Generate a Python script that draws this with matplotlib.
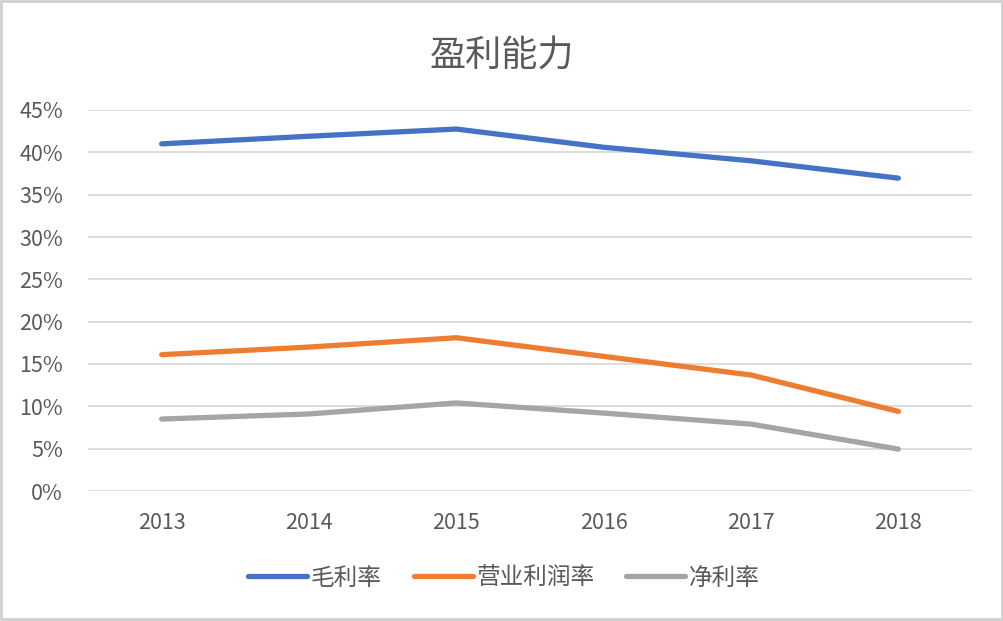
import matplotlib
matplotlib.use("Agg")
import matplotlib.pyplot as plt
from matplotlib.ticker import FuncFormatter, MultipleLocator
from matplotlib.patches import Rectangle

plt.rcParams['font.family'] = ['Noto Sans CJK SC', 'DejaVu Sans']

title = "盈利能力"
years = ["2013", "2014", "2015", "2016", "2017", "2018"]
gross_margin = [41.0, 41.9, 42.75, 40.6, 39.0, 36.95]
operating_margin = [16.1, 17.0, 18.1, 15.9, 13.7, 9.4]
net_margin = [8.5, 9.1, 10.4, 9.2, 7.9, 4.95]
series_names = ["毛利率", "营业利润率", "净利率"]
colors = ["#4472C4", "#ED7D31", "#A5A5A5"]

W, H = 1004, 621
fig = plt.figure(figsize=(W / 100, H / 100), dpi=100)
ax = fig.add_axes([88 / W, 1 - 491 / H, (972 - 88) / W, (491 - 110) / H])

x = list(range(len(years)))
for vals, name, c in zip([gross_margin, operating_margin, net_margin], series_names, colors):
    ax.plot(x, vals, color=c, lw=3.8, solid_capstyle='round', solid_joinstyle='round', label=name, zorder=3)

ax.set_xlim(-0.5, len(years) - 0.5)
ax.set_ylim(0, 45)
ax.yaxis.set_major_locator(MultipleLocator(5))
ax.yaxis.set_major_formatter(FuncFormatter(lambda v, p: f"{v:.0f}%"))
ax.set_xticks(x)
ax.set_xticklabels(years)
ax.grid(axis='y', color='#D9D9D9', lw=1.3, zorder=0)
for s in ax.spines.values():
    s.set_visible(False)
ax.tick_params(axis='both', length=0, labelsize=15.5, labelcolor='#595959')
ax.tick_params(axis='x', pad=15)
ax.tick_params(axis='y', pad=18)

fig.text(0.5, 1 - 57 / H, title, ha='center', va='center', fontsize=26, color='#595959')

leg = fig.legend(loc='center', bbox_to_anchor=(504 / W, 1 - 578 / H), ncol=3, frameon=False,
                 fontsize=17, handlelength=2.5, columnspacing=1.35, handletextpad=0.15)
for t in leg.get_texts():
    t.set_color('#595959')

fig.patches.append(Rectangle((0.001, 0.003), 0.997, 0.995, transform=fig.transFigure,
                             fill=False, edgecolor='#D0D0D0', lw=2))

fig.savefig("out.png", dpi=100)
